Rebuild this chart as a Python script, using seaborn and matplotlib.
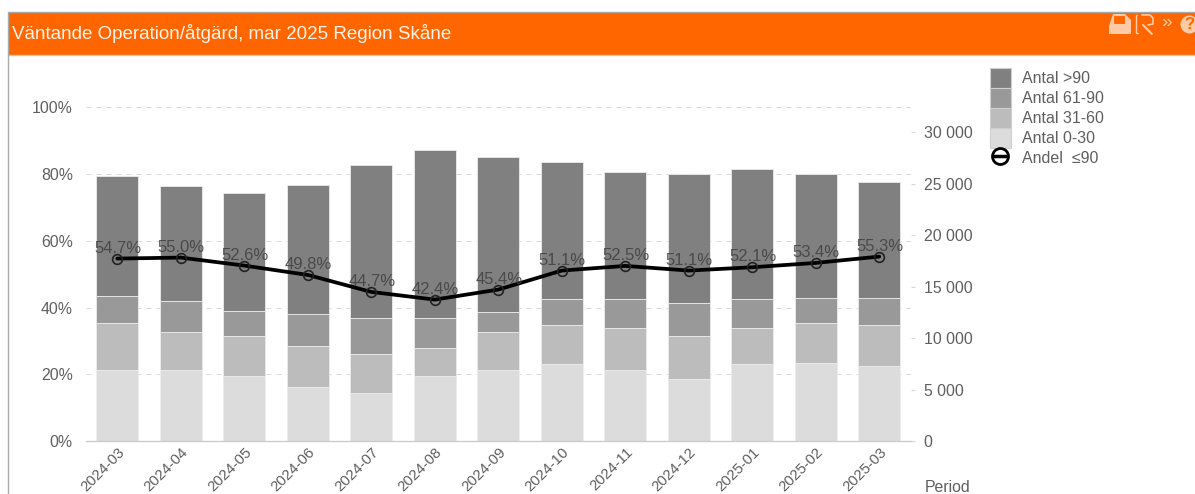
#!/usr/bin/env python

import numpy as np
import seaborn as sns
import matplotlib
matplotlib.use('Agg')
import matplotlib.pyplot as plt
from matplotlib.legend_handler import HandlerTuple
from matplotlib.lines import Line2D
from matplotlib.patches import Patch, Rectangle, Polygon, Circle

periods = ['2024-03', '2024-04', '2024-05', '2024-06', '2024-07', '2024-08', '2024-09',
           '2024-10', '2024-11', '2024-12', '2025-01', '2025-02', '2025-03']
antal_0_30 = [6890, 6890, 6340, 5240, 4690, 6340, 6890, 7440, 6890, 6050, 7440, 7570, 7280]
antal_31_60 = [4560, 3720, 3850, 3980, 3720, 2720, 3720, 3820, 4110, 4140, 3560, 3850, 3950]
antal_61_90 = [2590, 2980, 2460, 3140, 3560, 2910, 1910, 2490, 2750, 3170, 2750, 2460, 2650]
antal_over_90 = [11650, 11130, 11390, 12490, 14820, 16310, 15080, 13300, 12330, 12590, 12620, 12070, 11260]
andel = [54.7, 55.0, 52.6, 49.8, 44.7, 42.4, 45.4, 51.1, 52.5, 51.1, 52.1, 53.4, 55.3]

series_names = ['Antal 0-30', 'Antal 31-60', 'Antal 61-90', 'Antal >90']
series_colors = ['#dcdcdc', '#bcbcbc', '#999999', '#808080']
pct_ticks = [0, 20, 40, 60, 80, 100]
count_ticks = [0, 5000, 10000, 15000, 20000, 25000, 30000]
count_labels = ['0', '5 000', '10 000', '15 000', '20 000', '25 000', '30 000']

W, H = 1195, 494
TEXT = '#5f5f5f'
FS = 11.4

sns.set_style('white')
plt.rcParams['font.family'] = ['Liberation Sans', 'DejaVu Sans']

fig = plt.figure(figsize=(W / 100, H / 100), dpi=100)

# Pixel canvas for the page furniture
bg = fig.add_axes([0, 0, 1, 1], zorder=0)
bg.set_xlim(0, W)
bg.set_ylim(H, 0)
bg.axis('off')
bg.add_patch(Rectangle((8, 12), W - 8, 43, fc='#ff6600', ec='none'))
bg.plot([8, W], [12, 12], color='#a8a8a8', lw=1)
bg.plot([8, W], [55.5, 55.5], color='#c4c8c4', lw=1)
bg.plot([8.5, 8.5], [12, H], color='#a8aca8', lw=1)
bg.text(12, 33.5, 'Väntande Operation/åtgärd, mar 2025 Region Skåne', color='#fff4ec',
        fontsize=13.5, va='center', ha='left')

# Header icons
icon = '#ffcba6'
bg.add_patch(Polygon([[1109, 34], [1109, 26], [1113, 14], [1125, 14], [1131, 20], [1131, 34]],
                     fc=icon, ec='none'))
bg.add_patch(Rectangle((1113, 15), 12, 9, fc='#ff6600', ec=icon, lw=0.8))
bg.plot([1137, 1136, 1136, 1138], [15, 15, 33, 33], color=icon, lw=1)
bg.plot([1142, 1150, 1153, 1153, 1148], [15, 15, 18, 24, 25], color=icon, lw=1.2)
bg.plot([1143, 1152], [25, 34], color=icon, lw=1.5)
bg.text(1167, 23, '»', color=icon, fontsize=14, ha='center', va='center')
bg.add_patch(Circle((1189.5, 24.5), 9, fc=icon, ec='none'))
bg.text(1189.5, 24.5, '?', color='#ff6600', fontsize=12, fontweight='bold', ha='center', va='center')

rect = [85.5 / W, (H - 441) / H, 825.5 / W, 333.5 / H]

# Left axis holds only the percent scale and the dashed grid, behind the bars
ax_pct = fig.add_axes(rect, zorder=1)
ax_pct.patch.set_alpha(0)
ax_pct.set_ylim(0, 100)
ax_pct.set_yticks(pct_ticks)
ax_pct.set_yticklabels([f'{p}%' for p in pct_ticks], fontsize=FS, color=TEXT)
ax_pct.tick_params(axis='y', length=0, pad=9)
ax_pct.set_xticks([])
ax_pct.grid(axis='y', color='#d8d8d8', lw=0.72, linestyle=(0, (5, 5)))
ax_pct.grid(axis='x', visible=False)
sns.despine(ax=ax_pct, left=True, right=True, top=True, bottom=True)

# Stacked bars on the count scale
ax_bars = fig.add_axes(rect, zorder=2)
ax_bars.patch.set_alpha(0)
bottom = np.zeros(len(periods))
for name, values, color in zip(series_names, [antal_0_30, antal_31_60, antal_61_90, antal_over_90], series_colors):
    sns.barplot(x=periods, y=values, bottom=bottom, color=color, saturation=1, width=0.66,
                errorbar=None, edgecolor='#ececec', linewidth=0.6, ax=ax_bars)
    bottom = bottom + np.array(values)
ax_bars.set_xlim(-0.5, len(periods) - 0.5)
ax_bars.set_ylim(0, 32380)
ax_bars.yaxis.tick_right()
ax_bars.set_yticks(count_ticks)
ax_bars.set_yticklabels(count_labels, fontsize=FS, color=TEXT)
ax_bars.tick_params(axis='y', length=3, width=0.8, color='#d8d8d8', pad=6, right=True, left=False)
ax_bars.tick_params(axis='x', length=0)
ax_bars.set_xticks(range(len(periods)))
# Slightly under the other labels so the diagonal text stays inside the figure
ax_bars.set_xticklabels(periods, fontsize=10.8, color=TEXT, rotation=45, ha='right', rotation_mode='anchor')
ax_bars.tick_params(axis='x', pad=3)
ax_bars.set_xlabel('')
ax_bars.set_ylabel('')
for side in ['top', 'left', 'right']:
    ax_bars.spines[side].set_visible(False)
ax_bars.spines['bottom'].set_color('#cccccc')
ax_bars.spines['bottom'].set_linewidth(1)

# Share line on the percent scale, on top of the bars
ax_line = fig.add_axes(rect, zorder=3)
ax_line.patch.set_alpha(0)
ax_line.axis('off')
sns.lineplot(x=np.arange(len(periods)), y=andel, color='black', lw=2.7, ax=ax_line, legend=False)
ax_line.plot(np.arange(len(periods)), andel, ls='none', marker='o', ms=7, mfc='none', mec='#222222', mew=1.2)
ax_line.set_xlim(-0.5, len(periods) - 0.5)
ax_line.set_ylim(0, 100)
for i, v in enumerate(andel):
    ax_line.annotate(f'{v:.1f}%', (i, v), xytext=(0.5, 7.5), textcoords='offset points', ha='center', va='center',
                     fontsize=12, color='#444444', alpha=0.9)

bg.text(925, 487, 'Period', fontsize=FS, color=TEXT, ha='left', va='center')

handles = [Patch(fc=c, ec='#cfcfcf', lw=0.8) for c in series_colors[::-1]]
handles.append((Line2D([0], [0], ls='none', marker='o', ms=11.5, mfc='none', mec='black', mew=2),
                Line2D([0], [0], ls='none', marker='_', ms=12, mec='black', mew=2.5)))
labels = series_names[::-1] + ['Andel  ≤90']
fig.legend(handles, labels, loc='upper left', bbox_to_anchor=(990 / W, 1 - 68 / H), fontsize=11.5,
           frameon=False, borderpad=0, borderaxespad=0, labelspacing=0, handleheight=1.55,
           handlelength=1.3, handletextpad=0.69, labelcolor=TEXT,
           handler_map={tuple: HandlerTuple(ndivide=1, pad=0)})

plt.savefig('out.png', dpi=100)
